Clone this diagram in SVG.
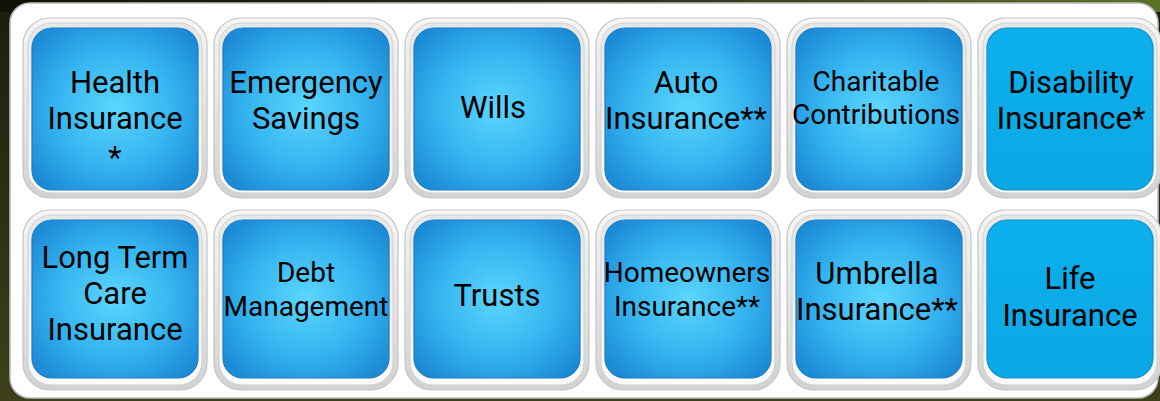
<svg xmlns="http://www.w3.org/2000/svg" width="1160" height="401" viewBox="0 0 1160 401">
<defs>
  <linearGradient id="bgL" x1="0" y1="0" x2="0" y2="1">
    <stop offset="0" stop-color="#1c1d0e"/>
    <stop offset="1" stop-color="#3d4019"/>
  </linearGradient>
  <linearGradient id="bgT" x1="0" y1="0" x2="1" y2="0">
    <stop offset="0" stop-color="#111108"/>
    <stop offset="0.5" stop-color="#2a2a1c"/>
    <stop offset="1" stop-color="#5d7228"/>
  </linearGradient>
  <linearGradient id="frameOut" x1="0" y1="0" x2="0" y2="1">
    <stop offset="0" stop-color="#f6f6f6"/>
    <stop offset="1" stop-color="#d2d2d2"/>
  </linearGradient>
  <linearGradient id="frameIn" x1="0" y1="0" x2="0" y2="1">
    <stop offset="0" stop-color="#e6e6e6"/>
    <stop offset="1" stop-color="#fbfbfb"/>
  </linearGradient>
  <radialGradient id="blue" cx="0.5" cy="0.5" r="0.62">
    <stop offset="0" stop-color="#5cd6fd"/>
    <stop offset="0.55" stop-color="#36b6f1"/>
    <stop offset="1" stop-color="#1d8cd7"/>
  </radialGradient>
  <linearGradient id="flat" x1="0" y1="0" x2="0" y2="1">
    <stop offset="0" stop-color="#0cb0ec"/>
    <stop offset="1" stop-color="#0aa8e4"/>
  </linearGradient>
  <style>
    .fo{fill:url(#frameOut);stroke:#c4c4c4;stroke-width:1.2}
    .fi{fill:url(#frameIn);stroke:#d0d0d0;stroke-width:1}
    .b{fill:url(#blue);stroke:#1a7cc4;stroke-width:1.2}
    .bf{fill:url(#flat);stroke:#0b8fce;stroke-width:1.2}
    text{font-family:Roboto,"Liberation Sans",sans-serif;fill:#000;text-anchor:middle}
    .t30{font-size:31px}
    .t27{font-size:28px}
  </style>
  <g id="tile">
    <rect class="fo" x="-9" y="-10" width="184" height="180" rx="27"/>
    <rect class="fi" x="-4" y="-5" width="174" height="170" rx="23"/>
  </g>
</defs>
<rect x="0" y="0" width="1160" height="401" fill="url(#bgL)"/>
<rect x="0" y="0" width="1160" height="12" fill="url(#bgT)"/>
<rect x="10" y="3" width="1148" height="395" rx="20" fill="#ffffff" stroke="#bdbdbd" stroke-width="1.5"/>

<g id="node-health-insurance">
  <use href="#tile" x="32" y="28"/>
  <rect class="b" x="32" y="28" width="166" height="162" rx="20"/>
  <text class="t30" x="115" y="93">Health</text>
  <text class="t30" x="115" y="129">Insurance</text>
  <text class="t30" x="115" y="168">*</text>
</g>
<g id="node-emergency-savings">
  <use href="#tile" x="223" y="28"/>
  <rect class="b" x="223" y="28" width="166" height="162" rx="20"/>
  <text class="t30" x="306" y="93">Emergency</text>
  <text class="t30" x="306" y="129">Savings</text>
</g>
<g id="node-wills">
  <use href="#tile" x="414" y="28"/>
  <rect class="b" x="414" y="28" width="166" height="162" rx="20"/>
  <text class="t30" x="493" y="118">Wills</text>
</g>
<g id="node-auto-insurance">
  <use href="#tile" x="605" y="28"/>
  <rect class="b" x="605" y="28" width="166" height="162" rx="20"/>
  <text class="t30" x="686" y="93">Auto</text>
  <text class="t30" x="686" y="129">Insurance**</text>
</g>
<g id="node-charitable-contributions">
  <use href="#tile" x="796" y="28"/>
  <rect class="b" x="796" y="28" width="166" height="162" rx="20"/>
  <text class="t27" x="876" y="91">Charitable</text>
  <text class="t27" x="876" y="124">Contributions</text>
</g>
<g id="node-disability-insurance">
  <use href="#tile" x="987" y="28"/>
  <rect class="bf" x="987" y="28" width="166" height="162" rx="20"/>
  <text class="t30" x="1071" y="93">Disability</text>
  <text class="t30" x="1071" y="129">Insurance*</text>
</g>

<g id="node-long-term-care-insurance">
  <use href="#tile" x="32" y="220"/>
  <rect class="b" x="32" y="220" width="166" height="158" rx="20"/>
  <text class="t30" x="115" y="268">Long Term</text>
  <text class="t30" x="115" y="304">Care</text>
  <text class="t30" x="115" y="340">Insurance</text>
</g>
<g id="node-debt-management">
  <use href="#tile" x="223" y="220"/>
  <rect class="b" x="223" y="220" width="166" height="158" rx="20"/>
  <text class="t27" x="306" y="282">Debt</text>
  <text class="t27" x="306" y="316">Management</text>
</g>
<g id="node-trusts">
  <use href="#tile" x="414" y="220"/>
  <rect class="b" x="414" y="220" width="166" height="158" rx="20"/>
  <text class="t30" x="497" y="306">Trusts</text>
</g>
<g id="node-homeowners-insurance">
  <use href="#tile" x="605" y="220"/>
  <rect class="b" x="605" y="220" width="166" height="158" rx="20"/>
  <text class="t27" x="687" y="282">Homeowners</text>
  <text class="t27" x="687" y="316">Insurance**</text>
</g>
<g id="node-umbrella-insurance">
  <use href="#tile" x="796" y="220"/>
  <rect class="b" x="796" y="220" width="166" height="158" rx="20"/>
  <text class="t30" x="877" y="284">Umbrella</text>
  <text class="t30" x="877" y="320">Insurance**</text>
</g>
<g id="node-life-insurance">
  <use href="#tile" x="987" y="220"/>
  <rect class="bf" x="987" y="220" width="166" height="158" rx="20"/>
  <text class="t30" x="1070" y="289">Life</text>
  <text class="t30" x="1070" y="326">Insurance</text>
</g>
<g id="connectors"/>
</svg>
